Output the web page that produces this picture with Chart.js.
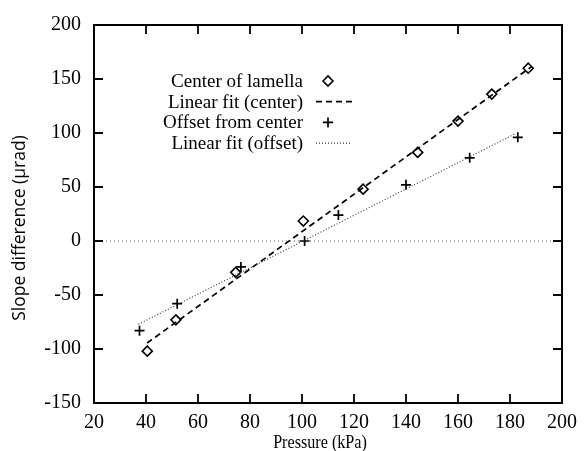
<!DOCTYPE html>
<html>
<head>
<meta charset="utf-8">
<script src="https://cdn.jsdelivr.net/npm/chart.js@4.4.0/dist/chart.umd.min.js"></script>
<style>
  html, body { margin: 0; padding: 0; background: #fff; }
  #wrap { width: 585px; height: 451px; }
</style>
</head>
<body>
<div id="wrap"><canvas id="chart" width="585" height="451"></canvas></div>
<script>
// values
const centerX = [40.5, 51.5, 74.5, 100.5, 123.5, 144.5, 160, 173, 187];
const centerY = [-102, -73, -29, 18.5, 48, 82, 111, 136, 160];
const offsetX = [37.5, 52, 76.5, 101, 114, 140, 164.5, 183];
const offsetY = [-83, -58, -24, 0, 24, 52, 77, 96];
const fitCenterX = [40.4, 188.3];
const fitCenterY = [-94.5, 161.5];
const fitOffsetX = [37.1, 182.1];
const fitOffsetY = [-77.1, 99.4];
const zeroLineX = [20, 200];
const xTicks = [20, 40, 60, 80, 100, 120, 140, 160, 180, 200];
const yTicks = [-150, -100, -50, 0, 50, 100, 150, 200];
const legendLabels = ['Center of lamella', 'Linear fit (center)', 'Offset from center', 'Linear fit (offset)'];
const xTitle = 'Pressure (kPa)';
const yTitle = 'Slope difference (µrad)';

const serif = '"Liberation Serif", "Times New Roman", serif';
const sans = '"Open Sans", "DejaVu Sans", sans-serif';
const toPts = (xs, ys) => xs.map((x, i) => ({ x: x, y: ys[i] }));

const centerStyle = { pointStyle: 'rectRot', pointRadius: 5, borderColor: '#000', backgroundColor: 'rgba(0,0,0,0)', borderWidth: 1.6 };
const offsetStyle = { pointStyle: 'cross', pointRadius: 5, borderColor: '#000', borderWidth: 1.7 };
const fitCenterStyle = { borderColor: '#000', borderWidth: 1.7, borderDash: [6, 4] };
const fitOffsetStyle = { borderColor: '#333', borderWidth: 1.1, borderDash: [1, 2] };

// inward ticks on all four sides, the frame and the axis titles
const frameTicks = {
    id: 'frameTicks',
    afterDatasetsDraw(chart) {
        const { ctx, chartArea: a, scales } = chart;
        const len = 9;
        ctx.save();
        ctx.strokeStyle = '#000';
        ctx.lineWidth = 2;
        ctx.strokeRect(a.left, a.top, a.right - a.left, a.bottom - a.top);
        ctx.lineWidth = 1.8;
        ctx.beginPath();
        xTicks.slice(1, -1).forEach(v => {
            const px = scales.x.getPixelForValue(v);
            ctx.moveTo(px, a.bottom); ctx.lineTo(px, a.bottom - len);
            ctx.moveTo(px, a.top); ctx.lineTo(px, a.top + len);
        });
        yTicks.slice(1, -1).forEach(v => {
            const py = scales.y.getPixelForValue(v);
            ctx.moveTo(a.left, py); ctx.lineTo(a.left + len, py);
            ctx.moveTo(a.right, py); ctx.lineTo(a.right - len, py);
        });
        ctx.stroke();

        ctx.fillStyle = '#000';
        ctx.textAlign = 'center';
        ctx.textBaseline = 'middle';
        // x title: tall but narrow type in the scan
        ctx.save();
        ctx.translate(a.left + 226, a.bottom + 40);
        ctx.scale(0.85, 1);
        ctx.font = '19px ' + serif;
        ctx.fillText(xTitle, 0, 0);
        ctx.restore();
        ctx.translate(20, a.top + 203);
        ctx.rotate(-Math.PI / 2);
        ctx.font = '17.5px ' + sans;
        ctx.fillText(yTitle, 0, 0);
        ctx.restore();
    }
};

// gnuplot-style key: text right aligned, sample to its right
const keyBox = {
    id: 'keyBox',
    afterDatasetsDraw(chart) {
        const { ctx, chartArea: a } = chart;
        const textRight = a.left + 209;
        const symX = a.left + 234;
        const top = a.top + 56;
        const step = 20.7;
        const styles = [centerStyle, fitCenterStyle, offsetStyle, fitOffsetStyle];
        ctx.save();
        ctx.font = '19px ' + serif;
        ctx.textAlign = 'right';
        ctx.textBaseline = 'middle';
        legendLabels.forEach((label, i) => {
            const y = top + i * step;
            ctx.fillStyle = '#000';
            ctx.fillText(label, textRight, y + 1);
            const s = styles[i];
            ctx.strokeStyle = s.borderColor;
            ctx.lineWidth = s.borderWidth;
            if (s.pointStyle) {
                ctx.fillStyle = 'rgba(0,0,0,0)';
                Chart.helpers.drawPoint(ctx, { pointStyle: s.pointStyle, radius: s.pointRadius, rotation: 0, borderWidth: s.borderWidth }, symX, y);
            } else {
                ctx.setLineDash(s.borderDash);
                ctx.beginPath();
                ctx.moveTo(symX - 12, y);
                ctx.lineTo(symX + 24, y);
                ctx.stroke();
                ctx.setLineDash([]);
            }
        });
        ctx.restore();
    }
};

new Chart(document.getElementById('chart'), {
    type: 'scatter',
    data: {
        datasets: [
            { data: toPts(zeroLineX, [0, 0]), showLine: true, pointRadius: 0, borderColor: '#555', borderWidth: 1, borderDash: [1, 3] },
            Object.assign({ data: toPts(fitOffsetX, fitOffsetY), showLine: true, pointRadius: 0 }, fitOffsetStyle),
            Object.assign({ data: toPts(fitCenterX, fitCenterY), showLine: true, pointRadius: 0 }, fitCenterStyle),
            Object.assign({ data: toPts(centerX, centerY), showLine: false }, centerStyle),
            Object.assign({ data: toPts(offsetX, offsetY), showLine: false }, offsetStyle)
        ]
    },
    options: {
        responsive: false,
        animation: false,
        layout: { padding: { top: 22, right: 20, left: 0, bottom: 0 } },
        plugins: { legend: { display: false }, tooltip: { enabled: false } },
        scales: {
            x: {
                type: 'linear',
                min: 20, max: 200,
                afterBuildTicks: s => { s.ticks = xTicks.map(v => ({ value: v })); },
                afterFit: s => { s.height = 48; },
                grid: { display: false, drawTicks: false },
                border: { display: false },
                ticks: { color: '#000', font: { family: serif, size: 20 }, padding: 8, maxRotation: 0 }
            },
            y: {
                type: 'linear',
                min: -150, max: 200,
                afterBuildTicks: s => { s.ticks = yTicks.map(v => ({ value: v })); },
                afterFit: s => { s.width = 94; },
                grid: { display: false, drawTicks: false },
                border: { display: false },
                ticks: { color: '#000', font: { family: serif, size: 20 }, padding: 13 }
            }
        }
    },
    plugins: [frameTicks, keyBox]
});
</script>
</body>
</html>
